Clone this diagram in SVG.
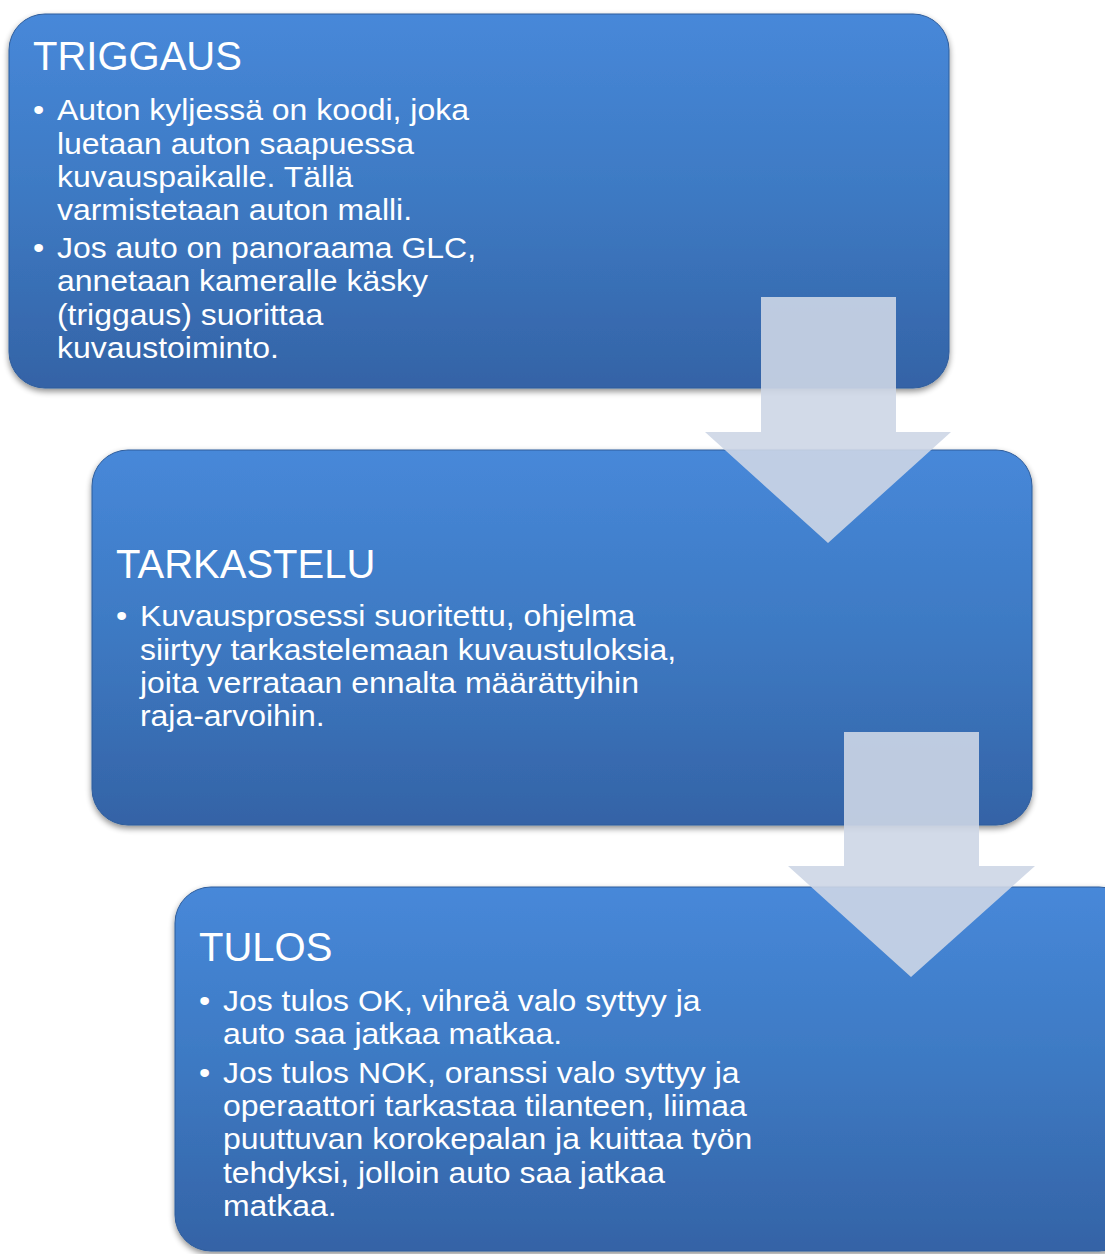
<svg xmlns="http://www.w3.org/2000/svg" width="1105" height="1254" viewBox="0 0 1105 1254">
<defs>
<linearGradient id="boxg" x1="0" y1="0" x2="0" y2="1">
<stop offset="0" stop-color="#4788d9"/>
<stop offset="0.5" stop-color="#3d79c2"/>
<stop offset="1" stop-color="#3463a6"/>
</linearGradient>
<filter id="sh" x="-5%" y="-5%" width="110%" height="115%">
<feGaussianBlur in="SourceAlpha" stdDeviation="3"/>
<feOffset dx="0" dy="3" result="b"/>
<feComponentTransfer><feFuncA type="linear" slope="0.45"/></feComponentTransfer>
<feMerge><feMergeNode/><feMergeNode in="SourceGraphic"/></feMerge>
</filter>
<style>
.box{fill:url(#boxg);stroke:#2f5d9c;stroke-width:1}
.t{font-family:"Liberation Sans",Arial,sans-serif;fill:#ffffff}
.h{font-size:40px}
.b{font-size:30px}
.arr{fill:#cdd6e5;fill-opacity:0.9}
</style>
</defs>
<rect width="1105" height="1254" fill="#ffffff"/>
<g id="node-triggaus">
<rect class="box" x="9" y="14" width="940" height="374" rx="36" filter="url(#sh)"/>
<text class="t h" x="33" y="70">TRIGGAUS</text>
<g transform="translate(33,0) scale(1.065,1)">
<text class="t b" x="0" y="120">•</text>
<text class="t b" x="22.5" y="120">Auton kyljessä on koodi, joka</text>
<text class="t b" x="22.5" y="154">luetaan auton saapuessa</text>
<text class="t b" x="22.5" y="187">kuvauspaikalle. Tällä</text>
<text class="t b" x="22.5" y="220">varmistetaan auton malli.</text>
<text class="t b" x="0" y="258">•</text>
<text class="t b" x="22.5" y="258">Jos auto on panoraama GLC,</text>
<text class="t b" x="22.5" y="291">annetaan kameralle käsky</text>
<text class="t b" x="22.5" y="325">(triggaus) suorittaa</text>
<text class="t b" x="22.5" y="358">kuvaustoiminto.</text>
</g>
</g>
<g id="node-tarkastelu">
<rect class="box" x="92" y="450" width="940" height="375" rx="36" filter="url(#sh)"/>
<text class="t h" x="116" y="578">TARKASTELU</text>
<g transform="translate(116,0) scale(1.065,1)">
<text class="t b" x="0" y="626">•</text>
<text class="t b" x="22.5" y="626">Kuvausprosessi suoritettu, ohjelma</text>
<text class="t b" x="22.5" y="660">siirtyy tarkastelemaan kuvaustuloksia,</text>
<text class="t b" x="22.5" y="693">joita verrataan ennalta määrättyihin</text>
<text class="t b" x="22.5" y="726">raja-arvoihin.</text>
</g>
</g>
<g id="node-tulos">
<rect class="box" x="175" y="887" width="960" height="364" rx="36" filter="url(#sh)"/>
<text class="t h" x="199" y="961">TULOS</text>
<g transform="translate(199,0) scale(1.065,1)">
<text class="t b" x="0" y="1011">•</text>
<text class="t b" x="22.5" y="1011">Jos tulos OK, vihreä valo syttyy ja</text>
<text class="t b" x="22.5" y="1044">auto saa jatkaa matkaa.</text>
<text class="t b" x="0" y="1083">•</text>
<text class="t b" x="22.5" y="1083">Jos tulos NOK, oranssi valo syttyy ja</text>
<text class="t b" x="22.5" y="1116">operaattori tarkastaa tilanteen, liimaa</text>
<text class="t b" x="22.5" y="1149">puuttuvan korokepalan ja kuittaa työn</text>
<text class="t b" x="22.5" y="1183">tehdyksi, jolloin auto saa jatkaa</text>
<text class="t b" x="22.5" y="1216">matkaa.</text>
</g>
</g>
<g id="connectors">
<path class="arr" d="M761 297 H896 V432 H951 L828 543 L705 432 H761 Z"/>
<path class="arr" d="M844 732 H979 V866 H1035 L911 977 L788 866 H844 Z"/>
</g>
</svg>
